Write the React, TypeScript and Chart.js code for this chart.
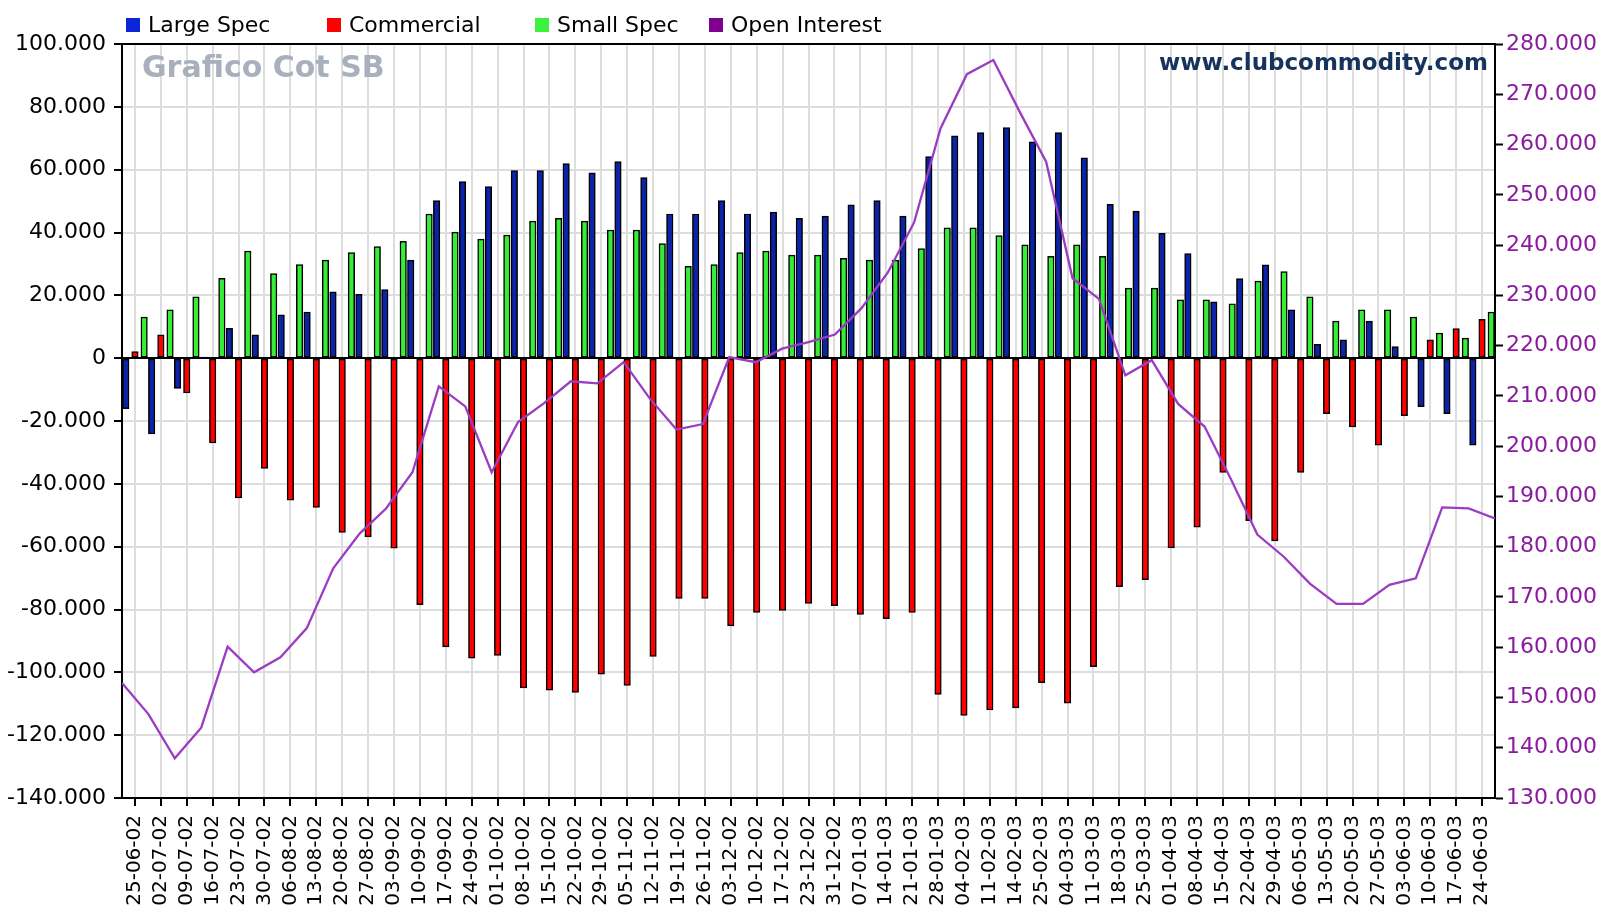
import React, { useEffect, useRef } from 'react';
import { Chart, registerables } from 'chart.js';

Chart.register(...registerables);

const labels = [
  '25-06-02', '02-07-02', '09-07-02', '16-07-02', '23-07-02', '30-07-02', '06-08-02', '13-08-02',
  '20-08-02', '27-08-02', '03-09-02', '10-09-02', '17-09-02', '24-09-02', '01-10-02', '08-10-02',
  '15-10-02', '22-10-02', '29-10-02', '05-11-02', '12-11-02', '19-11-02', '26-11-02', '03-12-02',
  '10-12-02', '17-12-02', '23-12-02', '31-12-02', '07-01-03', '14-01-03', '21-01-03', '28-01-03',
  '04-02-03', '11-02-03', '14-02-03', '25-02-03', '04-03-03', '11-03-03', '18-03-03', '25-03-03',
  '01-04-03', '08-04-03', '15-04-03', '22-04-03', '29-04-03', '06-05-03', '13-05-03', '20-05-03',
  '27-05-03', '03-06-03', '10-06-03', '17-06-03', '24-06-03',
];

const largeSpec = [
  -16100, -24100, -9600, 300, 9500, 7400, 13800, 14700, 21100, 20300, 21800, 31200, 50200,
  56200, 54600, 59700, 59700, 61900, 59000, 62600, 57500, 45900, 45900, 50200, 45900, 46500,
  44500, 45200, 48800, 50200, 45200, 64200, 70800, 71800, 73400, 68900, 71800, 63800, 49000,
  46800, 39700, 33300, 17900, 25300, 29700, 15400, 4400, 5800, 11800, 3700, -15400, -17700, -27700,
];

const commercial = [
  2100, 7400, -11100, -27000, -44500, -35100, -45200, -47500, -55500, -56900, -60500, -78500,
  -91900, -95500, -94600, -105000, -105700, -106400, -100600, -104200, -94900, -76500, -76500,
  -85200, -80900, -80300, -78100, -78800, -81600, -82900, -80900, -107000, -113700, -112000,
  -111300, -103300, -109800, -98200, -72700, -70500, -60400, -53800, -36400, -51700, -58200,
  -36400, -17700, -21900, -27700, -18300, 5800, 9400, 12400,
];

const smallSpec = [
  13100, 15400, 19500, 25400, 34100, 26900, 29800, 31200, 33600, 35500, 37200, 45900, 40100,
  37900, 39200, 43600, 44500, 43600, 40800, 40800, 36500, 29200, 29800, 33600, 34100, 32800,
  32800, 31800, 31200, 31200, 34900, 41500, 41500, 39000, 36100, 32400, 36100, 32400, 22300,
  22300, 18600, 18600, 17300, 24500, 27600, 19500, 11800, 15400, 15400, 13100, 8000, 6400, 14700,
];

const openInterest = [
  152900, 146700, 137900, 144000, 160100, 155000, 158000, 163800, 175700, 182600, 187600,
  194800, 211900, 207900, 194800, 204800, 208600, 212900, 212500, 216700, 209400, 203300,
  204400, 217700, 216700, 219400, 220700, 222200, 227400, 234500, 244500, 263200, 274000,
  276800, 266500, 256600, 233400, 229300, 214100, 217100, 208400, 203900, 193400, 182400,
  178000, 172600, 168600, 168600, 172400, 173700, 187800, 187600, 185600,
];

const seriesNames = ['Large Spec', 'Commercial', 'Small Spec', 'Open Interest'];
const legendColors = ['#0a26d6', '#ff0000', '#3cf23c', '#800090'];
const barColors = ['#0b23a8', '#ff0000', '#35ee35'];

const FONT = '"DejaVu Sans", Verdana, sans-serif';

// side-by-side placement of the three bars inside one week (fraction of a category)
const GROUP_SHIFT = [-0.355, 0, 0.355];

const fmt = (v: number) => (v === 0 ? '0' : `${Math.round(v / 1000)}.000`);

const decorPlugin = {
  id: 'decor',
  afterDraw(chart: any) {
    const { ctx, chartArea } = chart;
    ctx.save();
    ctx.strokeStyle = '#000';
    ctx.lineWidth = 2;
    ctx.beginPath();
    ctx.moveTo(chartArea.left - 1, chartArea.top);
    ctx.lineTo(chartArea.right + 1, chartArea.top);
    ctx.stroke();

    const boxX = [126, 327, 535, 709];
    ctx.font = `22px ${FONT}`;
    ctx.textBaseline = 'alphabetic';
    ctx.textAlign = 'left';
    seriesNames.forEach((name, i) => {
      ctx.fillStyle = legendColors[i];
      ctx.fillRect(boxX[i], 18, 14, 14);
      ctx.fillStyle = '#000';
      ctx.fillText(name, boxX[i] + 22, 31.5);
    });

    ctx.font = `bold 30px ${FONT}`;
    ctx.fillStyle = '#a9b0bd';
    ctx.fillText('Grafico Cot SB', 142, 77);
    ctx.font = `bold 23px ${FONT}`;
    ctx.fillStyle = '#15335c';
    ctx.textAlign = 'right';
    ctx.fillText('www.clubcommodity.com', chartArea.right - 7, 70);
    ctx.restore();
  },
};

export default function App() {
  const ref = useRef<HTMLCanvasElement | null>(null);

  useEffect(() => {
    if (!ref.current) return;
    const barSeries = [largeSpec, commercial, smallSpec];
    const barDatasets = barSeries.map((values, k) => ({
      type: 'bar' as const,
      label: seriesNames[k],
      data: values.map((v, i) => ({ x: i + GROUP_SHIFT[k], y: v })),
      backgroundColor: barColors[k],
      borderColor: '#000',
      borderWidth: 1.5,
      borderSkipped: false,
      grouped: false,
      barThickness: 6.5,
      xAxisID: 'xb',
      yAxisID: 'y',
      order: 1,
    }));
    const oiPoints = openInterest.map((v, i) => ({ x: i, y: v }));
    const chart = new Chart(ref.current, {
      type: 'bar',
      data: {
        labels,
        datasets: [
          ...barDatasets,
          {
            type: 'line' as const,
            label: seriesNames[3],
            data: oiPoints,
            borderColor: '#9b3cc2',
            borderWidth: 2.3,
            pointRadius: 0,
            tension: 0,
            fill: false,
            xAxisID: 'x2',
            yAxisID: 'y1',
            order: 0,
          } as any,
        ],
      },
      options: {
        responsive: false,
        animation: false,
        devicePixelRatio: 1,
        layout: { padding: { top: 44, left: 0, right: 0, bottom: 0 } },
        plugins: {
          legend: { display: false },
          tooltip: { enabled: false },
          title: { display: false },
        },
        scales: {
          x: {
            type: 'category',
            offset: true,
            position: 'bottom',
            grid: {
              offset: false,
              color: '#dddddd',
              lineWidth: 2,
              tickColor: '#000',
              tickLength: 8,
              tickWidth: 2,
            },
            border: { color: '#000', width: 2 },
            ticks: {
              autoSkip: false,
              maxRotation: 90,
              minRotation: 90,
              padding: 9,
              color: '#000',
              font: { family: FONT, size: 20 },
            },
            afterFit(scale: any) {
              scale.height = 116;
            },
          },
          xb: {
            type: 'linear',
            display: false,
            offset: false,
            min: -0.5,
            max: labels.length - 0.5,
            grid: { offset: false },
          },
          x2: {
            type: 'linear',
            display: false,
            offset: false,
            min: 0,
            max: labels.length - 1,
            grid: { offset: false },
          },
          y: {
            position: 'left',
            min: -140000,
            max: 100000,
            grid: {
              color: (c: any) => (c.tick && c.tick.value === 0 ? '#000' : '#dddddd'),
              lineWidth: 2,
              tickColor: '#000',
              tickLength: 8,
              tickWidth: 2,
            },
            border: { color: '#000', width: 2 },
            ticks: {
              stepSize: 20000,
              padding: 8,
              color: '#000',
              font: { family: FONT, size: 22 },
              callback: (v: any) => fmt(Number(v)),
            },
            afterFit(scale: any) {
              scale.width = 122;
            },
          },
          y1: {
            position: 'right',
            min: 130000,
            max: 280000,
            grid: {
              drawOnChartArea: false,
              tickColor: '#000',
              tickLength: 8,
              tickWidth: 2,
            },
            border: { color: '#000', width: 2 },
            ticks: {
              stepSize: 10000,
              padding: 3,
              color: '#8b1aa0',
              font: { family: FONT, size: 22 },
              callback: (v: any) => fmt(Number(v)),
            },
            afterFit(scale: any) {
              scale.width = 114;
            },
          },
        },
      },
      plugins: [decorPlugin],
    } as any);
    return () => chart.destroy();
  }, []);

  return (
    <div style={{ position: 'fixed', left: 0, top: 0, width: 1609, height: 914, background: '#fff' }}>
      <canvas ref={ref} width={1609} height={914} style={{ display: 'block' }} />
    </div>
  );
}
